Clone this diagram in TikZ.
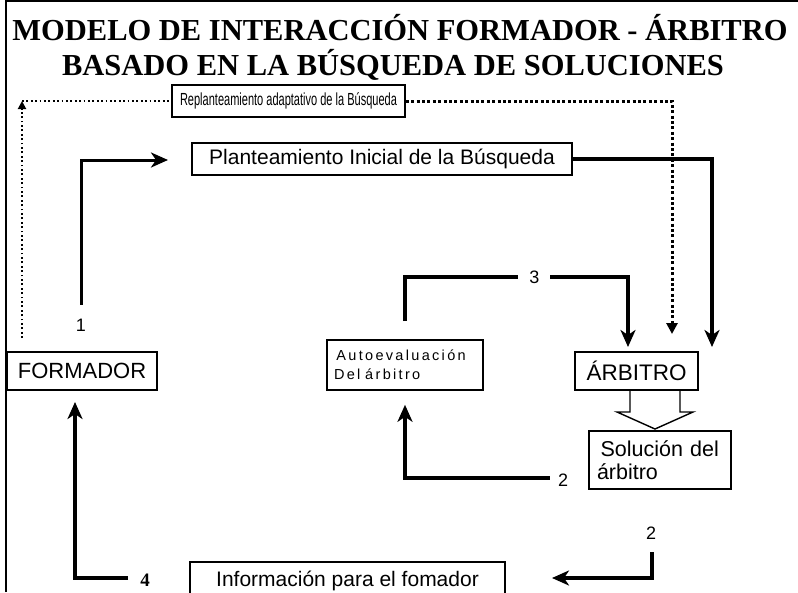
\documentclass[tikz,border=0pt]{standalone}
\usepackage{fontspec}
\usepackage{graphicx}
\setmainfont{Liberation Serif}
\setsansfont{Liberation Sans}
\newfontfamily\spacedsf[LetterSpace=16]{Liberation Sans}
\usetikzlibrary{arrows.meta}

\begin{document}
\begin{tikzpicture}[x=1pt,y=-1pt]
      \tikzset{box/.style = {draw, line width=1.6pt, inner sep=0pt, font=\sffamily}}
      \tikzset{flow/.style = {line width=3.6pt, -{Stealth[length=17pt,width=15pt,inset=5pt]}}}
      \tikzset{dotline/.style = {line width=1.8pt, dash pattern=on 1.8pt off 2.6pt}}
      \tikzset{num/.style = {font=\sffamily\fontsize{18}{18}\selectfont, inner sep=2pt}}
      \useasboundingbox (0,0) rectangle (798,592);
      \clip (0,0) rectangle (798,592);
      \draw[line width=2.4pt] (6,592) -- (6,1.2) -- (798,1.2);

      % titulo
      \node[font=\bfseries\fontsize{30.5}{30.5}\selectfont] (title1) at (400,28) {MODELO DE INTERACCIÓN FORMADOR - ÁRBITRO};
      \node[font=\bfseries\fontsize{30.5}{30.5}\selectfont] (title2) at (393,65) {BASADO EN LA BÚSQUEDA DE SOLUCIONES};

      % cajas
      \node[box, minimum width=233pt, minimum height=32pt, font=\sffamily\fontsize{17.5}{17.5}\selectfont] (replan) at (288.5,101) {\scalebox{0.63}[1]{Replanteamiento adaptativo de la Búsqueda}};
      \node[box, minimum width=380pt, minimum height=32pt, font=\sffamily\fontsize{21}{21}\selectfont] (plant) at (382,159) {Planteamiento Inicial de la Búsqueda};
      \node[box, minimum width=150pt, minimum height=38pt, font=\sffamily\fontsize{22}{22}\selectfont] (formador) at (82,371) {FORMADOR};
      \node[box, minimum width=123pt, minimum height=38pt, font=\sffamily\fontsize{22.5}{22.5}\selectfont] (arbitro) at (636.5,371) {ÁRBITRO};
      \node[box, text width=142pt, inner xsep=7pt, minimum height=50pt, align=left, font=\spacedsf\fontsize{14.5}{19}\selectfont] (autoev) at (405,365) {\,Autoevaluación\\Del árbitro};
      \node[box, text width=126pt, inner xsep=8pt, minimum height=58pt, align=left, font=\sffamily\fontsize{21.5}{23}\selectfont] (solucion) at (660,460) {\,Solución del\\árbitro};
      \node[box, minimum width=315pt, minimum height=38pt, font=\sffamily\fontsize{21}{21}\selectfont] (info) at (347.5,581) {Información para el fomador};

      % flecha de bloque
      \draw[line width=1.4pt] (arbitro.south -| 630,0) -- (630,412) -- (617,412) -- (655,429)
            -- (693,412) -- (680,412) -- (arbitro.south -| 680,0);

      % numeros
      \node[num] (num1) at (81,325) {1};
      \node[num] (num2a) at (563,480) {2};
      \node[num] (num2b) at (651,533) {2};
      \node[num, font=\rmfamily\bfseries\fontsize{19}{19}\selectfont] (num4) at (145,580) {4};

      \coordinate (c1) at (168,160);
      \coordinate (c3a) at (405,321);
      \coordinate (c3b) at (628,277);
      \coordinate (c3c) at (628,347);
      \coordinate (c5) at (712,347);
      \coordinate (c6) at (672,334);
      \coordinate (c7) at (22,338);
      \coordinate (c8) at (22,101);
      \coordinate (c2b) at (552,578);
      \coordinate (c4) at (75,402);

      % conectores
      \draw[dotline] (c8) -- (replan.west);
      \draw[dotline, -{Triangle[length=8pt,width=8pt]}] (c7) -- (c8);
      \draw[dotline, line width=3pt, dash pattern=on 3pt off 2.4pt, -{Triangle[length=11pt,width=11pt]}] (replan.east) -| (c6);
      \draw[flow, line width=3pt] (num1.north) ++(0,-12) |- (c1);
      \draw[flow] (plant.east) -| (c5);
      \draw[flow] (c3a) |- node[num, fill=white, minimum width=32pt, pos=0.79] (num3) {3} (c3b) -- (c3c);
      \draw[flow, shorten >=14pt] (num2a.west) ++(-6,-2) -| (autoev.south);
      \draw[flow] (num2b.south) ++(1,11) |- (c2b);
      \draw[flow, line width=4pt] (num4.west) ++(-10,-2) -| (c4);
\end{tikzpicture}
\end{document}
